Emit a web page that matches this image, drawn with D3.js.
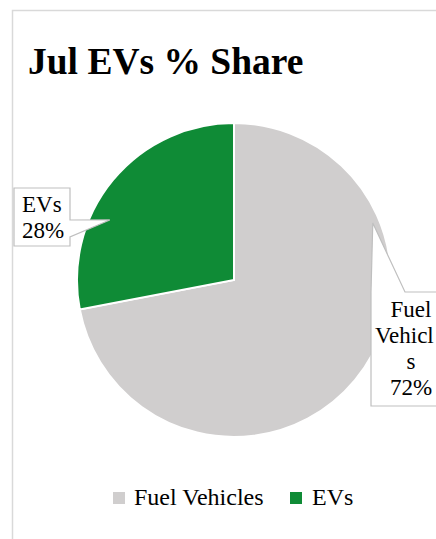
<!DOCTYPE html>
<html>
<head>
<meta charset="utf-8">
<script src="https://cdn.jsdelivr.net/npm/d3@7"></script>
<style>
  html, body { margin: 0; padding: 0; background: #fff; }
  svg { display: block; }
</style>
</head>
<body>
<div id="chart"></div>
<script>
// chart data
const categories = ["Fuel Vehicles", "EVs"];
const shares = [72, 28];
const colors = ["#d0cece", "#0f8b36"];
// data label text as it wraps (and is cut by the edge) in the chart
const labelLines = [["Fuel", "Vehicl", "s", "72%"], ["EVs", "28%"]];

const width = 436, height = 539;
const cx = 234, cy = 280, radius = 157;

const svg = d3.select("#chart").append("svg")
  .attr("width", width)
  .attr("height", height)
  .style("font-family", '"Liberation Serif", "Times New Roman", serif');

// chart frame (runs off the right / bottom edge)
svg.append("rect")
  .attr("x", 12.5).attr("y", 10.5)
  .attr("width", 460).attr("height", 560)
  .attr("fill", "#fff")
  .attr("stroke", "#d9d9d9")
  .attr("stroke-width", 1.5);

svg.append("text")
  .attr("x", 28).attr("y", 74)
  .style("font-size", "37.5px")
  .style("font-weight", "bold")
  .text("Jul EVs % Share");

const data = categories.map((c, i) => ({ name: c, value: shares[i], color: colors[i], lines: labelLines[i] }));

const pie = d3.pie().sort(null).value(d => d.value);
const arc = d3.arc().innerRadius(0).outerRadius(radius);

const g = svg.append("g").attr("transform", `translate(${cx},${cy})`);

g.selectAll("path.slice")
  .data(pie(data))
  .enter()
  .append("path")
  .attr("class", "slice")
  .attr("d", arc)
  .attr("fill", d => d.data.color)
  .attr("stroke", "#fff")
  .attr("stroke-width", 2);

// callout labels: box, pointer tip (angle / radius from centre), text lines
const callouts = [
  { box: [371, 292, 80, 114], tipAngle: 67.7, tipR: 150, baseX: 405, textX: [411, 375, 411, 411], anchor: ["middle", "start", "middle", "middle"], firstY: 317 },
  { box: [14, 188, 56, 58], tipAngle: 295.8, tipR: 138, baseY: [220, 237], textX: [22, 22], anchor: ["start", "start"], firstY: 212 }
];

data.forEach((d, i) => {
  const c = callouts[i];
  const [bx, by, bw, bh] = c.box;
  const a = c.tipAngle * Math.PI / 180;
  const tip = [cx + c.tipR * Math.sin(a), cy - c.tipR * Math.cos(a)];
  let path;
  if (i === 0) {
    // pointer out of the top edge
    path = `M${bx},${by} L${tip[0]},${tip[1]} L${c.baseX},${by} L${bx + bw},${by} L${bx + bw},${by + bh} L${bx},${by + bh} Z`;
  } else {
    // pointer out of the right edge
    path = `M${bx},${by} L${bx + bw},${by} L${bx + bw},${c.baseY[0]} L${tip[0]},${tip[1]} L${bx + bw},${c.baseY[1]} L${bx + bw},${by + bh} L${bx},${by + bh} Z`;
  }
  svg.append("path")
    .attr("d", path)
    .attr("fill", "#fff")
    .attr("stroke", "#bfbfbf")
    .attr("stroke-width", 1.2);

  const t = svg.append("text").style("font-size", "23px");
  d.lines.forEach((ln, k) => {
    t.append("tspan")
      .attr("x", c.textX[k])
      .attr("y", c.firstY + k * 26)
      .attr("text-anchor", c.anchor[k])
      .text(ln);
  });
});

// legend
const legend = svg.append("g");
const legendItems = [
  { x: 113, tx: 134 },
  { x: 290, tx: 312 }
];
data.forEach((d, i) => {
  legend.append("rect")
    .attr("x", legendItems[i].x).attr("y", 492)
    .attr("width", 12).attr("height", 12)
    .attr("fill", d.color);
  legend.append("text")
    .attr("x", legendItems[i].tx).attr("y", 505)
    .style("font-size", "24px")
    .text(d.name);
});
</script>
</body>
</html>
